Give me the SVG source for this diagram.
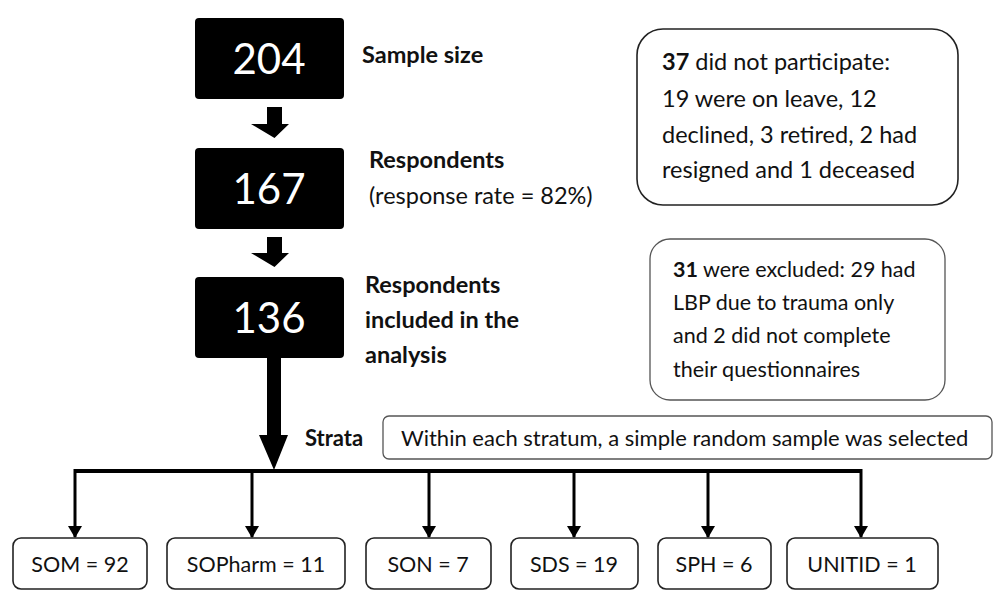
<svg xmlns="http://www.w3.org/2000/svg" width="1000" height="606" viewBox="0 0 1000 606">
<style>
text{font-family:Lato,"Open Sans","Liberation Sans",sans-serif;fill:#111}
.num{font-size:42px;fill:#fff;text-anchor:middle}
.lbl{font-size:23.5px}
.b{font-weight:bold}
.note{font-size:23.5px}
.note2{font-size:21.5px}
.strat{font-size:22px}
.st{font-size:21.5px;text-anchor:middle}
.blk{fill:#000}
.box{fill:#fff;stroke:#222;stroke-width:1.6}
.box2{fill:#fff;stroke:#555;stroke-width:1.3}
.conn{stroke:#000;fill:none}
</style>
<defs>
<marker id="ah" markerWidth="12" markerHeight="14" refX="11" refY="7" orient="auto" markerUnits="userSpaceOnUse" viewBox="0 0 12 14">
<path d="M0,0 L12,7 L0,14 Z" fill="#000"/>
</marker>
</defs>
<rect width="1000" height="606" fill="#fff"/>

<g id="n204">
<rect class="blk" x="195" y="18" width="149" height="81" rx="4"/>
<text class="num" x="269" y="74">204</text>
<text class="lbl b" x="362" y="63">Sample size</text>
</g>
<g id="n167">
<rect class="blk" x="195" y="148" width="149" height="81" rx="4"/>
<text class="num" x="269" y="204">167</text>
<text class="lbl b" x="369" y="168">Respondents</text>
<text class="lbl" x="369" y="204">(response rate = 82%)</text>
</g>
<g id="n136">
<rect class="blk" x="195" y="277" width="149" height="81" rx="4"/>
<text class="num" x="269" y="333">136</text>
<text class="lbl b" x="365" y="293">Respondents</text>
<text class="lbl b" x="365" y="328">included in the</text>
<text class="lbl b" x="365" y="363">analysis</text>
</g>
<g id="n37">
<rect class="box" x="637" y="29" width="321" height="176" rx="26"/>
<text class="note" x="662" y="70"><tspan class="b">37</tspan> did not participate:</text>
<text class="note" x="662" y="107">19 were on leave, 12</text>
<text class="note" x="662" y="143">declined, 3 retired, 2 had</text>
<text class="note" x="662" y="178">resigned and 1 deceased</text>
</g>
<g id="n31">
<rect class="box2" x="650" y="239" width="295" height="161" rx="20"/>
<text class="note2" x="673" y="277"><tspan class="b">31</tspan> were excluded: 29 had</text>
<text class="note2" x="673" y="310">LBP due to trauma only</text>
<text class="note2" x="673" y="343">and 2 did not complete</text>
<text class="note2" x="673" y="377">their questionnaires</text>
</g>
<g id="strata">
<text class="strat b" x="305" y="446">Strata</text>
<rect class="box2" x="383" y="416" width="609" height="43" rx="6"/>
<text class="strat" x="401" y="446">Within each stratum, a simple random sample was selected</text>
</g>
<g id="som"><rect class="box" x="13" y="538" width="134" height="51" rx="8"/><text class="st" x="80" y="572">SOM = 92</text></g>
<g id="sopharm"><rect class="box" x="167" y="538" width="178" height="51" rx="8"/><text class="st" x="256" y="572">SOPharm = 11</text></g>
<g id="son"><rect class="box" x="366" y="538" width="125" height="51" rx="8"/><text class="st" x="428" y="572">SON = 7</text></g>
<g id="sds"><rect class="box" x="511" y="538" width="127" height="51" rx="8"/><text class="st" x="574" y="572">SDS = 19</text></g>
<g id="sph"><rect class="box" x="658" y="538" width="113" height="51" rx="8"/><text class="st" x="714" y="572">SPH = 6</text></g>
<g id="unitid"><rect class="box" x="787" y="538" width="151" height="51" rx="8"/><text class="st" x="862" y="572">UNITID = 1</text></g>

<g id="connectors">
<path class="blk" d="M267,107 H282 V124 H289 L274.5,138 L251,124 H267 Z"/>
<path class="blk" d="M267,237 H282 V253 H289 L274.5,267 L251,253 H267 Z"/>
<path class="blk" d="M267,358 H281 V435 H288 L274,470 L259,435 H267 Z"/>
<path class="conn" stroke-width="4" d="M75,471 H861"/>
<g stroke-width="3" class="conn">
<line x1="75" y1="469" x2="75" y2="537" marker-end="url(#ah)"/>
<line x1="252" y1="471" x2="252" y2="537" marker-end="url(#ah)"/>
<line x1="429" y1="471" x2="429" y2="537" marker-end="url(#ah)"/>
<line x1="574" y1="471" x2="574" y2="537" marker-end="url(#ah)"/>
<line x1="708" y1="471" x2="708" y2="537" marker-end="url(#ah)"/>
<line x1="861" y1="469" x2="861" y2="537" marker-end="url(#ah)"/>
</g>
</g>
</svg>
